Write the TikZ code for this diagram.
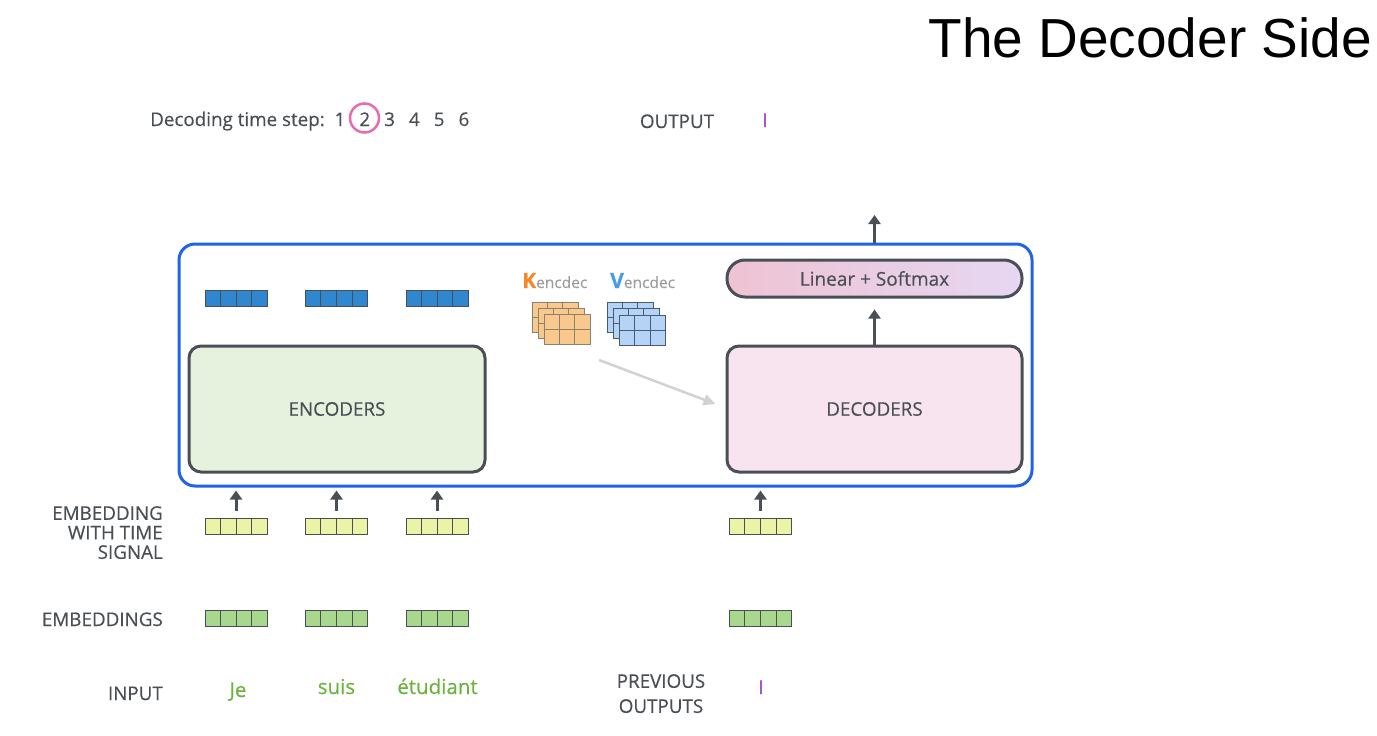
\documentclass[tikz,border=0pt]{standalone}
\usepackage{fontspec}
\setmainfont{Open Sans}[FakeBold=0.4]
\newfontfamily\titlefont{Liberation Sans}
\usetikzlibrary{calc,arrows.meta}
\definecolor{ink}{HTML}{4A4F55}
\definecolor{frame}{HTML}{1F64E6}
\definecolor{encfill}{HTML}{E6F2DE}
\definecolor{decfill}{HTML}{F8E4EF}
\definecolor{softl}{HTML}{EEC3D3}
\definecolor{softr}{HTML}{E6D7F2}
\definecolor{hidblue}{HTML}{2F87CF}
\definecolor{timeyel}{HTML}{EBF3A6}
\definecolor{embgreen}{HTML}{A8D78E}
\definecolor{wordgreen}{HTML}{6CB33E}
\definecolor{outpurple}{HTML}{A855D0}
\definecolor{kfill}{HTML}{F8C88D}
\definecolor{kline}{HTML}{8C8070}
\definecolor{vfill}{HTML}{B5D3F6}
\definecolor{vline}{HTML}{4A5A70}
\definecolor{kletter}{HTML}{F08A2C}
\definecolor{vletter}{HTML}{4B9BEC}
\definecolor{subgray}{HTML}{9B9B9B}
\definecolor{stepcirc}{HTML}{E86AB0}
\tikzset{txt/.style={text=ink, font=\fontsize{18.8}{19.5}\selectfont, inner sep=0}}
\tikzset{block/.style={draw=ink, line width=3pt, rounded corners=12pt, inner sep=0}}
\tikzset{vec/.style={draw=ink, line width=1pt, minimum width=62pt, minimum height=16pt, inner sep=0}}
\tikzset{kvbox/.style={line width=1pt, minimum width=46pt, minimum height=30pt, inner sep=0}}
\tikzset{flow/.style={draw=ink, line width=3pt, -{Triangle[length=9pt,width=12pt]}}}
\tikzset{fade/.style={draw=gray!35, line width=2.5pt, -{Triangle[length=12pt,width=11pt]}}}
\tikzset{word/.style={text=wordgreen, font=\fontsize{20.5}{24}\selectfont, inner sep=0, anchor=base}}
\tikzset{outword/.style={text=outpurple, font=\fontsize{19}{24}\selectfont, inner sep=0, anchor=base}}

% one vector of four cells
\newcommand{\vecrow}[4]{%
  \node[vec, fill=#4] (#1) at (#2,#3) {};
  \foreach \i in {1,2,3}
    \draw[draw=ink, line width=1pt] ($(#1.north west)!\i/4!(#1.north east)$) -- ($(#1.south west)!\i/4!(#1.south east)$);
}
% one 3x2 matrix
\newcommand{\kvmat}[5]{%
  \node[kvbox, fill=#4, draw=#5] (#1) at (#2,#3) {};
  \foreach \i in {1,2}
    \draw[draw=#5, line width=1pt] ($(#1.north west)!\i/3!(#1.north east)$) -- ($(#1.south west)!\i/3!(#1.south east)$);
  \draw[draw=#5, line width=1pt] (#1.west) -- (#1.east);
}

\begin{document}
\begin{tikzpicture}[x=1pt,y=-1pt]
\useasboundingbox (0,0) rectangle (1377,736);

\node[anchor=base east, inner sep=0, font=\titlefont\fontsize{55}{60}\selectfont] (title) at (1372,57) {The Decoder Side};

% time steps
\node[txt, anchor=base west] (steplbl) at (150,126) {Decoding time step:};
\foreach \n in {1,...,6}
  \node[txt, anchor=base] (s\n) at ({315.2+24.8*\n},126) {\n};
\node[draw=stepcirc, line width=2.5pt, circle, minimum size=29pt, inner sep=0] (cur) at (364.5,118) {};

\node[txt, anchor=base] (outlbl) at (677,128) {OUTPUT};
\node[outword] (out) at (765,127) {I};

% main boxes
\node[draw=frame, line width=3pt, rounded corners=16pt, minimum width=853pt, minimum height=242pt, inner sep=0] (outer) at (605.5,365) {};
\node[block, txt, fill=encfill, minimum width=296pt, minimum height=126pt] (enc) at (337,409) {ENCODERS};
\node[block, txt, fill=decfill, minimum width=295pt, minimum height=126pt] (dec) at (874.5,409) {DECODERS};
\node[block, txt, font=\fontsize{19}{22}\selectfont, rounded corners=18pt, left color=softl, right color=softr, minimum width=295pt, minimum height=37pt] (soft) at (874.5,278.5) {Linear + Softmax};

% encoder outputs
\vecrow{h1}{236}{298}{hidblue}
\vecrow{h2}{336.5}{298}{hidblue}
\vecrow{h3}{437}{298}{hidblue}

% K and V
\node[anchor=base west, inner sep=0] (klbl) at (522,288) {\fontsize{21}{24}\selectfont\bfseries\color{kletter}K\fontsize{15.5}{16}\selectfont\mdseries\color{subgray}encdec};
\node[anchor=base west, inner sep=0] (vlbl) at (610,288) {\fontsize{21}{24}\selectfont\bfseries\color{vletter}V\fontsize{15.5}{16}\selectfont\mdseries\color{subgray}encdec};
\kvmat{k3}{555}{317}{kfill}{kline}
\kvmat{k2}{561}{323}{kfill}{kline}
\kvmat{k1}{567}{329.5}{kfill}{kline}
\kvmat{v3}{630}{317}{vfill}{vline}
\kvmat{v2}{636}{323.5}{vfill}{vline}
\kvmat{v1}{642.5}{330.5}{vfill}{vline}

% embeddings with time signal
\vecrow{t1}{236}{526}{timeyel}
\vecrow{t2}{336.5}{526}{timeyel}
\vecrow{t3}{437}{526}{timeyel}
\vecrow{t4}{760.5}{526}{timeyel}

% embeddings
\vecrow{e1}{236}{618}{embgreen}
\vecrow{e2}{336.5}{618}{embgreen}
\vecrow{e3}{437}{618}{embgreen}
\vecrow{e4}{760.5}{618}{embgreen}

% row labels
\node[txt, anchor=north east, align=right] (lblts) at (163,506) {EMBEDDING\\WITH TIME\\SIGNAL};
\node[txt, anchor=base east] (lblemb) at (163,626) {EMBEDDINGS};
\node[txt, anchor=base east] (lblin) at (163,700) {INPUT};
\node[txt, anchor=north, align=center, font=\fontsize{18.8}{25}\selectfont] (lblprev) at (661,674) {PREVIOUS\\OUTPUTS};

% words
\node[word] (w1) at (238,697) {Je};
\node[word] (w2) at (336.5,694) {suis};
\node[word] (w3) at (437.5,694) {étudiant};
\node[outword] (prev) at (761,694) {I};

% arrows
\foreach \t in {t1,t2,t3,t4}
  \draw[flow] ([yshift=7pt]\t.north) -- ([yshift=-3pt]\t.north |- outer.south);
\draw[flow] (dec.north) -- ([yshift=-11pt]soft.south);
\coordinate (outtop) at (874.5,215);
\draw[flow] (soft.north |- outer.north) -- (outtop);
\coordinate (kvout) at (599,360);
\draw[fade] (kvout) -- ([xshift=-10pt,yshift=5pt]dec.west);
\end{tikzpicture}
\end{document}
